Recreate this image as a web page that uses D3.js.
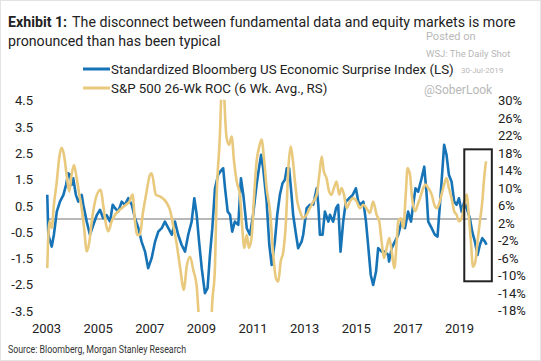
<html>
<head>
  <meta charset="utf-8">
  <script src="https://d3js.org/d3.v7.min.js"></script>
  <style>
    body { margin: 0; background: #fff; font-family: 'Roboto', Arial, sans-serif; }
  </style>
</head>
<body>
  <svg id="chart" width="541" height="361"></svg>
  <script>
    // ----- data -----
    // Standardized Bloomberg US Economic Surprise Index (LS), decimal years
    const surpriseDates = [2003.01, 2003.05, 2003.18, 2003.26, 2003.37, 2003.49, 2003.62, 2003.72, 2003.80, 2003.87,
      2003.93, 2003.99, 2004.09, 2004.18, 2004.31, 2004.37, 2004.50, 2004.62, 2004.75, 2004.88,
      2005.00, 2005.12, 2005.25, 2005.38, 2005.48, 2005.57, 2005.69, 2005.82, 2005.94, 2006.07,
      2006.20, 2006.32, 2006.45, 2006.57, 2006.70, 2006.82, 2006.95, 2007.08, 2007.20, 2007.33,
      2007.45, 2007.58, 2007.71, 2007.83, 2007.95, 2008.08, 2008.21, 2008.33, 2008.46, 2008.56,
      2008.65, 2008.74, 2008.84, 2008.96, 2009.06, 2009.15, 2009.24, 2009.34, 2009.46, 2009.59,
      2009.65, 2009.72, 2009.82, 2009.91, 2009.99, 2010.09, 2010.22, 2010.32, 2010.41, 2010.54,
      2010.66, 2010.78, 2010.91, 2011.00, 2011.08, 2011.16, 2011.29, 2011.39, 2011.48, 2011.60,
      2011.69, 2011.79, 2011.89, 2011.98, 2012.05, 2012.14, 2012.23, 2012.29, 2012.40, 2012.48,
      2012.61, 2012.67, 2012.80, 2012.92, 2013.05, 2013.18, 2013.24, 2013.30, 2013.40, 2013.49,
      2013.62, 2013.68, 2013.80, 2013.91, 2013.99, 2014.08, 2014.18, 2014.28, 2014.41, 2014.54,
      2014.66, 2014.75, 2014.84, 2014.94, 2015.04, 2015.12, 2015.22, 2015.31, 2015.42, 2015.50,
      2015.63, 2015.75, 2015.88, 2015.91, 2016.01, 2016.13, 2016.26, 2016.38, 2016.51, 2016.63,
      2016.74, 2016.82, 2016.91, 2017.01, 2017.14, 2017.24, 2017.33, 2017.39, 2017.52, 2017.64,
      2017.74, 2017.83, 2017.92, 2017.99, 2018.08, 2018.17, 2018.27, 2018.37, 2018.46, 2018.55,
      2018.65, 2018.75, 2018.84, 2018.96, 2019.05, 2019.15, 2019.25, 2019.34, 2019.43, 2019.53,
      2019.59];
    const surpriseValues = [0.92, -0.60, -1.05, -0.60, 0.28, 0.66, 0.92, 1.30, 1.74, 1.68,
      1.30, 1.55, 0.92, 0.66, 0.92, 0.54, -0.10, -0.60, -0.22, 0.15,
      0.35, 0.03, 0.15, -0.10, 0.54, 0.41, 0.28, 0.66, 0.54, 0.79,
      0.54, 0.03, -0.35, -0.86, -1.24, -1.87, -1.49, -0.86, -0.48, -0.35,
      -0.10, -0.35, -0.60, -0.10, -0.60, -0.98, -1.24, -0.60, -0.10, 0.79,
      0.16, -0.86, -1.87, -2.82, -2.63, -1.37, -0.35, 1.17, 1.68, 1.87,
      1.93, 1.17, 0.28, 0.16, -0.48, -0.10, -0.22, 1.55, 0.92, -0.35,
      -0.60, 0.16, 1.30, 1.93, 2.44, 1.93, 0.66, -0.98, -1.75, -0.86,
      0.16, 0.92, 1.36, 1.49, 1.93, 1.93, 0.92, 0.16, -0.60, -1.11,
      -0.86, -0.60, 0.41, 0.54, 0.54, 1.17, 0.54, -0.60, -0.60, 0.28,
      -0.10, 0.16, -0.10, 0.41, 0.54, -1.24, -0.10, 0.66, 0.79, 0.92,
      1.17, 0.66, 0.54, 0.66, -0.10, -0.98, -2.13, -2.51, -2.00, -1.11,
      -1.24, -1.24, -1.37, -1.62, -1.11, -0.86, -0.60, -0.10, -0.35, 0.28,
      -0.10, 0.54, 1.17, 1.04, 1.55, 1.99, 0.92, -0.10, -0.35, -0.60,
      -0.67, 0.54, 1.80, 2.82, 2.44, 1.68, 1.42, 0.66, 0.54, 0.79,
      0.28, 0.66, 0.41, 0.03, -0.48, -0.86, -1.37, -0.98, -0.73, -0.86,
      -0.98];

    // S&P 500 26-Wk ROC, 6 Wk. Avg. (RS, %)
    const spxDates = [2003.01, 2003.09, 2003.18, 2003.26, 2003.37, 2003.46, 2003.55, 2003.64, 2003.74, 2003.84,
      2003.93, 2004.02, 2004.12, 2004.22, 2004.31, 2004.40, 2004.50, 2004.60, 2004.69, 2004.81,
      2004.94, 2005.03, 2005.12, 2005.23, 2005.31, 2005.44, 2005.57, 2005.69, 2005.82, 2005.98,
      2006.11, 2006.23, 2006.32, 2006.41, 2006.51, 2006.61, 2006.74, 2006.89, 2006.95, 2007.11,
      2007.26, 2007.52, 2007.64, 2007.77, 2007.89, 2008.02, 2008.17, 2008.27, 2008.40, 2008.52,
      2008.65, 2008.72, 2008.82, 2008.95, 2009.08, 2009.17, 2009.22, 2009.34, 2009.40, 2009.53,
      2009.58, 2009.64, 2009.69, 2009.72, 2009.78, 2009.87, 2009.97, 2010.06, 2010.16, 2010.28,
      2010.37, 2010.45, 2010.54, 2010.62, 2010.72, 2010.82, 2010.91, 2011.00, 2011.10, 2011.20,
      2011.29, 2011.42, 2011.54, 2011.64, 2011.73, 2011.82, 2011.92, 2012.02, 2012.11, 2012.20,
      2012.27, 2012.36, 2012.45, 2012.55, 2012.67, 2012.80, 2012.92, 2013.05, 2013.18, 2013.28,
      2013.37, 2013.45, 2013.55, 2013.65, 2013.74, 2013.83, 2013.93, 2014.03, 2014.12, 2014.21,
      2014.31, 2014.43, 2014.56, 2014.69, 2014.81, 2014.94, 2015.06, 2015.19, 2015.31, 2015.44,
      2015.54, 2015.63, 2015.72, 2015.82, 2015.92, 2016.01, 2016.11, 2016.20, 2016.26, 2016.36,
      2016.45, 2016.54, 2016.61, 2016.70, 2016.78, 2016.89, 2016.99, 2017.08, 2017.20, 2017.29,
      2017.39, 2017.52, 2017.62, 2017.71, 2017.79, 2017.89, 2017.99, 2018.08, 2018.17, 2018.27,
      2018.37, 2018.46, 2018.55, 2018.65, 2018.75, 2018.84, 2018.92, 2019.00, 2019.08, 2019.17,
      2019.25, 2019.34, 2019.43, 2019.50, 2019.57];
    const spxValues = [-8.3, 2.4, 0.9, 6.2, 11.5, 16.9, 19.2, 17.6, 13.1, 9.2,
      13.1, 15.3, 12.3, 8.5, 5.4, 0.9, -4.5, -2.2, 2.4, 6.9,
      9.2, 9.6, 6.2, 1.6, 0.1, 2.4, 3.9, 4.7, 5.4, 6.2,
      6.9, 8.5, 2.4, -0.7, -0.7, 3.9, 8.5, 13.1, 13.4, 8.5,
      8.1, 6.6, 5.0, 1.2, -2.6, -8.0, -13.3, -8.0, -5.7, -8.7,
      -12.5, -18.5, -27, -38, -41, -30, -18.5, -8.0, 7.3, 22.7,
      32, 38, 31, 26.8, 21.5, 19.9, 21.8, 16.1, 11.5, 8.5,
      0.9, -3.7, -0.7, -3.7, -1.4, 8.5, 16.1, 19.2, 21.1, 16.1,
      10.0, 4.7, -5.3, -10.6, -11.4, -6.8, -4.5, 2.4, 14.6, 19.5,
      16.9, 11.5, 6.9, 4.7, 3.1, 3.9, 5.4, 6.9, 8.5, 13.1,
      17.2, 13.8, 12.3, 9.2, 8.5, 10.0, 11.5, 8.5, 10.0, 8.5,
      5.4, 6.9, 7.7, 6.9, 5.4, 6.2, 5.4, 4.3, 6.9, 3.9,
      2.4, -2.2, -6.0, -3.7, -1.4, -4.5, -8.3, -2.2, 2.4, 3.1,
      0.9, 8.5, 14.6, 13.1, 7.7, 4.7, 6.2, 7.7, 10.0, 10.8,
      10.0, 8.5, 6.2, 5.4, 6.2, 8.5, 10.8, 12.3, 10.0, 7.7,
      4.7, 3.9, 2.4, 3.1, 6.2, 8.5, 3.9, -2.2, -8.0, -6.8,
      -2.2, 2.4, 6.9, 12.3, 16.1];

    const yearLabels = ["2003", "2005", "2007", "2009", "2011", "2013", "2015", "2017", "2019"];
    const leftTicks = [4.5, 3.5, 2.5, 1.5, 0.5, -0.5, -1.5, -2.5, -3.5];
    const rightTicks = [30, 26, 22, 18, 14, 10, 6, 2, -2, -6, -10, -14, -18];
    // highlighted recent period: [start, end] in years, [top, bottom] on LS
    const boxYears = [2018.75, 2019.79];
    const boxLevels = [2.65, -2.37];

    const blue = "#1573b6";
    const gold = "#e9c97d";

    const svg = d3.select("#chart");

    // ----- scales -----
    const x = d3.scaleLinear().domain([2003, 2019.57]).range([47, 486]);
    const xLabels = d3.scalePoint().domain(yearLabels).range([46, 459]);
    const yL = d3.scaleLinear().domain([-3.5, 4.5]).range([311, 100.7]);
    const yR = d3.scaleLinear().domain([-18, 30]).range([310.5, 100.7]);

    // frame
    svg.append("rect")
      .attr("x", 0.5).attr("y", 0.5).attr("width", 540).attr("height", 360)
      .attr("fill", "#fff").attr("stroke", "#e3e3e3");

    // ----- title -----
    const title = svg.append("text")
      .attr("x", 8).attr("y", 27)
      .attr("font-size", "14.2px").attr("fill", "#222");
    title.append("tspan").attr("font-weight", "bold").text("Exhibit 1:");
    title.append("tspan").attr("dx", 5).text("The disconnect between fundamental data and equity markets is more");
    svg.append("text")
      .attr("x", 8).attr("y", 46)
      .attr("font-size", "14.2px").attr("fill", "#222")
      .text("pronounced than has been typical");

    // watermark
    const wm = svg.append("g").attr("fill", "#b8b8b8");
    wm.append("text").attr("x", 426).attr("y", 40).attr("font-size", "11px").text("Posted on");
    wm.append("text").attr("x", 426).attr("y", 57).attr("font-size", "9.5px").text("WSJ: The Daily Shot");
    wm.append("text").attr("x", 461).attr("y", 73).attr("font-size", "8px").text("30-Jul-2019");
    wm.append("text").attr("x", 424).attr("y", 94).attr("font-size", "12px").text("@SoberLook");

    // ----- legend -----
    const legend = svg.append("g").attr("font-size", "13.3px").attr("fill", "#222");
    [["Standardized Bloomberg US Economic Surprise Index (LS)", blue, 69],
     ["S&P 500 26-Wk ROC (6 Wk. Avg., RS)", gold, 88]].forEach(([label, color, ly]) => {
      legend.append("line")
        .attr("x1", 83).attr("x2", 110).attr("y1", ly).attr("y2", ly)
        .attr("stroke", color).attr("stroke-width", 3);
      legend.append("text").attr("x", 111).attr("y", ly + 5).text(label);
    });

    // ----- axes -----
    const axisFont = g => g.selectAll("text").attr("font-size", "13px").attr("fill", "#222")
      .attr("font-family", "Roboto, Arial, sans-serif");
    const hyphen = s => s.replace("\u2212", "-");

    svg.append("g")
      .attr("transform", "translate(33,0)")
      .call(d3.axisLeft(yL).tickValues(leftTicks).tickSize(0).tickPadding(0)
        .tickFormat(d => hyphen(d3.format(".1f")(d))))
      .call(g => g.select(".domain").remove())
      .call(axisFont);

    svg.append("g")
      .attr("transform", "translate(498,0)")
      .call(d3.axisRight(yR).tickValues(rightTicks).tickSize(0).tickPadding(0).tickFormat(d => d + "%"))
      .call(g => g.select(".domain").remove())
      .call(axisFont);

    svg.append("g")
      .attr("transform", "translate(0,321)")
      .call(d3.axisBottom(xLabels).tickSize(0).tickPadding(3))
      .call(g => g.select(".domain").remove())
      .call(axisFont);

    // ----- plot -----
    svg.append("clipPath").attr("id", "plotClip")
      .append("rect")
      .attr("x", 40).attr("width", 460)
      .attr("y", yL(4.5) - 1).attr("height", yL(-3.5) - yL(4.5) + 2);

    const plot = svg.append("g").attr("clip-path", "url(#plotClip)");

    // zero line
    plot.append("line")
      .attr("x1", x(2003)).attr("x2", x(2019.6))
      .attr("y1", yL(0)).attr("y2", yL(0))
      .attr("stroke", "#a0a0a0").attr("stroke-width", 1.3);

    const surprise = surpriseDates.map((d, i) => ({ t: d, v: surpriseValues[i] }));
    const spx = spxDates.map((d, i) => ({ t: d, v: spxValues[i] }));

    plot.append("path")
      .datum(surprise)
      .attr("fill", "none").attr("stroke", blue).attr("stroke-width", 2.6)
      .attr("stroke-linejoin", "round")
      .attr("d", d3.line().x(d => x(d.t)).y(d => yL(d.v)));

    plot.append("path")
      .datum(spx)
      .attr("fill", "none").attr("stroke", gold).attr("stroke-width", 2.6)
      .attr("stroke-linejoin", "round")
      .attr("d", d3.line().curve(d3.curveMonotoneX).x(d => x(d.t)).y(d => yR(d.v)));

    // highlight box
    svg.append("rect")
      .attr("x", x(boxYears[0])).attr("y", yL(boxLevels[0]))
      .attr("width", x(boxYears[1]) - x(boxYears[0]))
      .attr("height", yL(boxLevels[1]) - yL(boxLevels[0]))
      .attr("fill", "none").attr("stroke", "#222").attr("stroke-width", 2);

    // source (condensed look)
    svg.append("text")
      .attr("x", 8).attr("y", 353)
      .attr("font-size", "10px").attr("fill", "#333")
      .attr("textLength", 178).attr("lengthAdjust", "spacingAndGlyphs")
      .text("Source: Bloomberg, Morgan Stanley Research");
  </script>
</body>
</html>
